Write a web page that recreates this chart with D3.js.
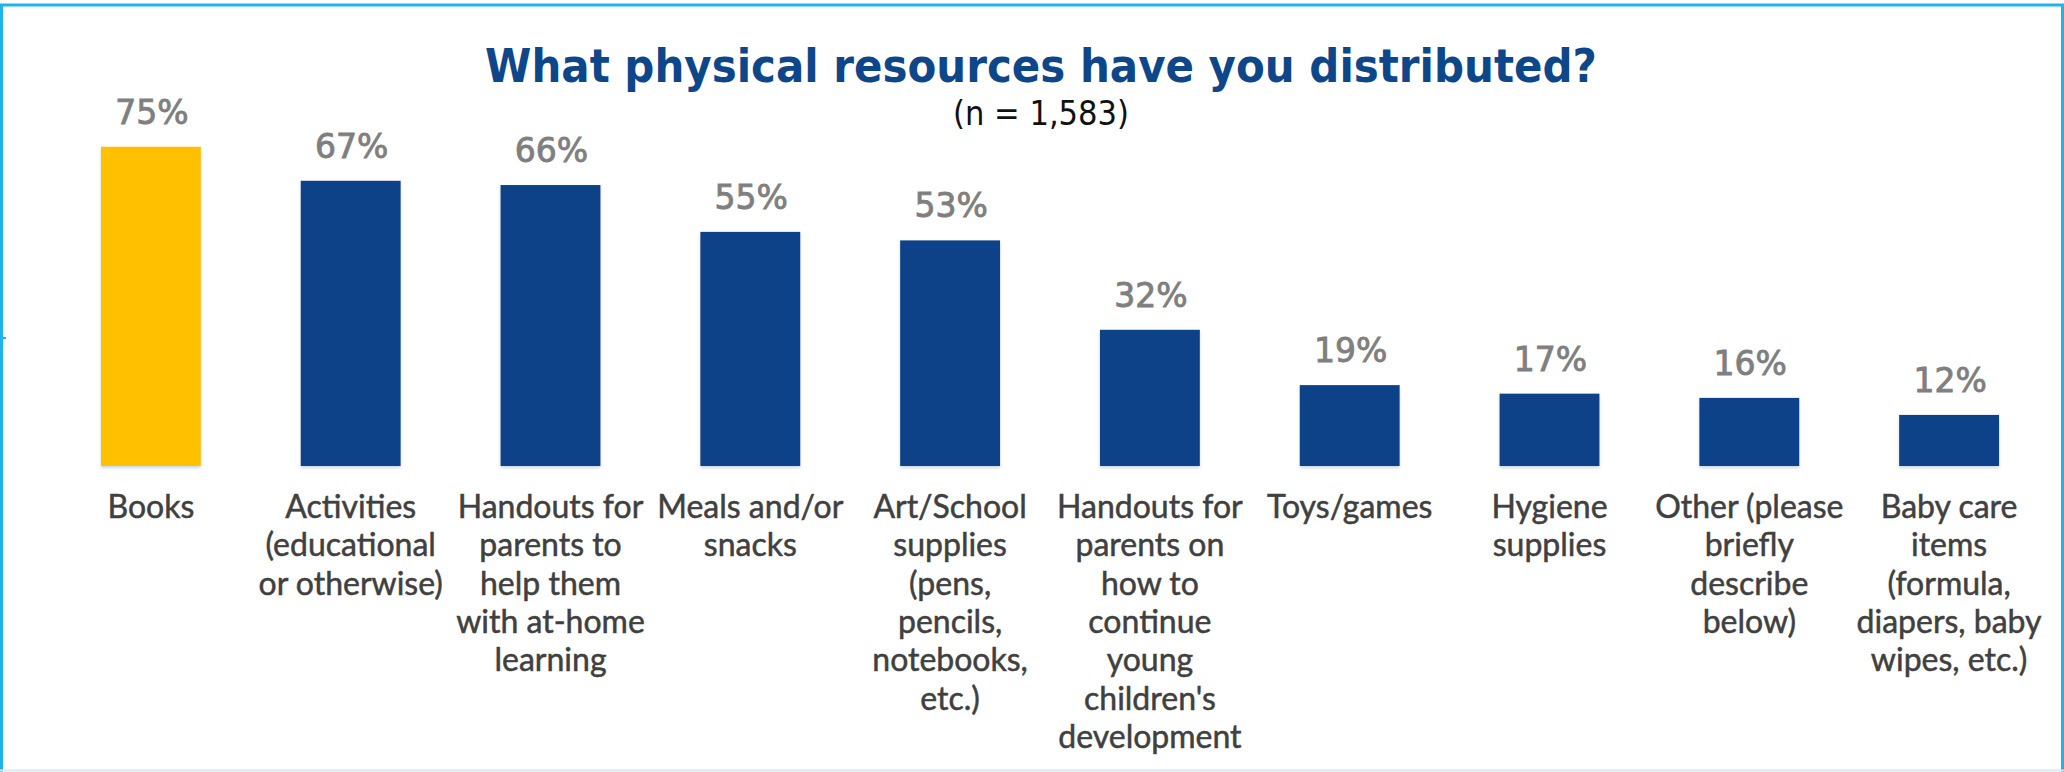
<!DOCTYPE html>
<html>
<head>
<meta charset="utf-8">
<script src="https://cdn.jsdelivr.net/npm/d3@7/dist/d3.min.js"></script>
<style>
  html, body { margin: 0; padding: 0; background: #ffffff; }
  svg { display: block; }
</style>
</head>
<body>
<svg id="chart" width="2064" height="772"></svg>
<script>
const titleText = "What physical resources have you distributed?";
const subtitleText = "(n = 1,583)";
const categories = [
  "Books",
  "Activities (educational or otherwise)",
  "Handouts for parents to help them with at-home learning",
  "Meals and/or snacks",
  "Art/School supplies (pens, pencils, notebooks, etc.)",
  "Handouts for parents on how to continue young children's development",
  "Toys/games",
  "Hygiene supplies",
  "Other (please briefly describe below)",
  "Baby care items (formula, diapers, baby wipes, etc.)"
];
const categoryLines = [
  ["Books"],
  ["Activities", "(educational", "or otherwise)"],
  ["Handouts for", "parents to", "help them", "with at-home", "learning"],
  ["Meals and/or", "snacks"],
  ["Art/School", "supplies", "(pens,", "pencils,", "notebooks,", "etc.)"],
  ["Handouts for", "parents on", "how to", "continue", "young", "children's", "development"],
  ["Toys/games"],
  ["Hygiene", "supplies"],
  ["Other (please", "briefly", "describe", "below)"],
  ["Baby care", "items", "(formula,", "diapers, baby", "wipes, etc.)"]
];
const values = [75, 67, 66, 55, 53, 32, 19, 17, 16, 12];
const highlighted = ["Books"];

const svg = d3.select("#chart");
const W = 2064, H = 772;

// frame
svg.append("line").attr("x1", 0).attr("x2", W).attr("y1", 5).attr("y2", 5)
  .attr("stroke", "#1fb3e9").attr("stroke-width", 3);
svg.append("line").attr("x1", 1.5).attr("x2", 1.5).attr("y1", 4).attr("y2", H)
  .attr("stroke", "#1fb3e9").attr("stroke-width", 3);
svg.append("line").attr("x1", W - 1.5).attr("x2", W - 1.5).attr("y1", 4).attr("y2", H)
  .attr("stroke", "#1fb3e9").attr("stroke-width", 3);
svg.append("line").attr("x1", 0).attr("x2", W).attr("y1", H - 1.5).attr("y2", H - 1.5)
  .attr("stroke", "#dbe8ef").attr("stroke-width", 2);
svg.append("line").attr("x1", 0).attr("x2", 6).attr("y1", 338).attr("y2", 338)
  .attr("stroke", "#1fb3e9").attr("stroke-width", 2);

const defs = svg.append("defs");
const f = defs.append("filter").attr("id", "shadow")
  .attr("x", "-10%").attr("y", "-10%").attr("width", "120%").attr("height", "120%");
f.append("feDropShadow").attr("dx", 0).attr("dy", 2).attr("stdDeviation", 1.5)
  .attr("flood-color", "#6f8fb0").attr("flood-opacity", 0.35);

const x = d3.scaleBand().domain(categories).range([51, 2049])
  .paddingInner(0.5).paddingOuter(0.25);
const y = d3.scaleLinear().domain([0, 100]).range([466, 40.3]);

// bars
svg.append("g").selectAll("rect").data(categories).join("rect")
  .attr("x", d => x(d))
  .attr("y", (d, i) => y(values[i]))
  .attr("width", x.bandwidth())
  .attr("height", (d, i) => y(0) - y(values[i]))
  .attr("fill", d => highlighted.includes(d) ? "#ffc000" : "#0a4388")
  .attr("filter", "url(#shadow)");

// value labels
svg.append("g").selectAll("text").data(categories).join("text")
  .attr("x", d => x(d) + x.bandwidth() / 2 + 1)
  .attr("y", (d, i) => y(values[i]) - 23)
  .attr("text-anchor", "middle")
  .attr("font-family", "'DejaVu Sans', sans-serif")
  .attr("font-size", 33)
  .attr("fill", "#7f7f7f")
  .attr("stroke", "#7f7f7f")
  .attr("stroke-width", 0.9)
  .text((d, i) => values[i] + "%");

// category labels via axis
const axis = d3.axisBottom(x).tickSize(0).tickFormat("");
const ax = svg.append("g").attr("transform", "translate(0,466)").call(axis);
ax.select(".domain").remove();
ax.selectAll(".tick").each(function(d, i) {
  const t = d3.select(this).append("text")
    .attr("text-anchor", "middle")
    .attr("font-family", "Lato, sans-serif")
    .attr("font-size", 32)
    .attr("fill", "#404040")
    .attr("stroke", "#404040")
    .attr("stroke-width", 0.5);
  categoryLines[i].forEach((ln, k) => {
    t.append("tspan").attr("x", 0).attr("y", 52 + k * 38.3).text(ln);
  });
});

// title
function fitText(sel, target) {
  const w = sel.node().getComputedTextLength();
  const fs = parseFloat(sel.attr("font-size"));
  sel.attr("font-size", fs * target / w);
}
const title = svg.append("text")
  .attr("x", 1041).attr("y", 82)
  .attr("text-anchor", "middle")
  .attr("font-family", "'DejaVu Sans Condensed', 'DejaVu Sans', sans-serif")
  .attr("font-weight", "bold")
  .attr("font-size", 45)
  .attr("fill", "#0e4789")
  .text(titleText);
fitText(title, 1112);

const sub = svg.append("text")
  .attr("x", 1041).attr("y", 125)
  .attr("text-anchor", "middle")
  .attr("font-family", "'DejaVu Sans Condensed', 'DejaVu Sans', sans-serif")
  .attr("font-size", 28)
  .attr("fill", "#111111")
  .text(subtitleText);
fitText(sub, 176);
</script>
</body>
</html>
